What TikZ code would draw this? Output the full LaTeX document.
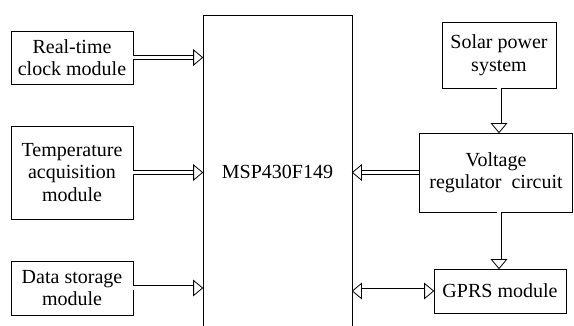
\documentclass[tikz,border=0pt]{standalone}
\usepackage{fontspec}
\setmainfont{Liberation Serif}
\usetikzlibrary{arrows.meta,positioning,decorations.markings}

\begin{document}
\begin{tikzpicture}[x=1pt,y=-1pt,
  block/.style={draw,line width=0.8pt,inner sep=2pt,align=center,
    font=\fontsize{20}{22.5}\selectfont},
  tip/.style={line width=0.8pt,fill=white,line join=miter},
  bus/.style={draw,line width=0.8pt,double,double distance=3.4pt,shorten >=8pt,
    postaction={decorate,decoration={markings,
      mark=at position 1 with {\draw[tip] (0,0) -- (-9pt,7.5pt) -- (-9pt,-7.5pt) -- cycle;}}}},
  bibus/.style={draw,line width=0.8pt,double,double distance=3.4pt,shorten >=8pt,shorten <=8pt,
    postaction={decorate,decoration={markings,
      mark=at position 0 with {\draw[tip] (0,0) -- (9pt,7.5pt) -- (9pt,-7.5pt) -- cycle;},
      mark=at position 1 with {\draw[tip] (0,0) -- (-9pt,7.5pt) -- (-9pt,-7.5pt) -- cycle;}}}}]

\useasboundingbox (0,0) rectangle (574,326);
\clip (0,0) rectangle (574,326);

% --- controller ----------------------------------------------------------
\node[block,minimum width=149pt,minimum height=314pt] (mcu) at (277.5,172) {MSP430F149};

% --- left modules ----------------------------------------------------------
\node[block,minimum width=122pt,minimum height=53pt] (rtc) at (72,57.5) {Real-time\\clock module};
\node[block,minimum width=122pt,minimum height=93pt] (temp) at (72,172.5) {Temperature\\acquisition\\module};
\node[block,minimum width=122pt,minimum height=54pt] (store) at (72,288) {Data storage\\module};

% --- right modules ---------------------------------------------------------
\node[block,minimum width=114pt,minimum height=66pt] (solar) at (499,55) {Solar power\\system};
\node[block,minimum width=153pt,minimum height=79pt] (vreg) at (496,172.5) {Voltage\\regulator\ \ circuit};
\node[block,minimum width=132pt,minimum height=44pt] (gprs) at (500,291) {GPRS module};

% --- buses -----------------------------------------------------------------
\draw[bus] (rtc.east) -- (rtc.east -| mcu.west);
\draw[bus] (temp.east) -- (temp.east -| mcu.west);
\draw[bus] (store.east) -- (store.east -| mcu.west);
\draw[bus] (vreg.west) -- (vreg.west -| mcu.east);
\draw[bus] (solar.south) -- (solar.south |- vreg.north);
\draw[bus] (solar.south |- vreg.south) -- (solar.south |- gprs.north);
\draw[bibus] (gprs.west) -- (gprs.west -| mcu.east);
\end{tikzpicture}
\end{document}
